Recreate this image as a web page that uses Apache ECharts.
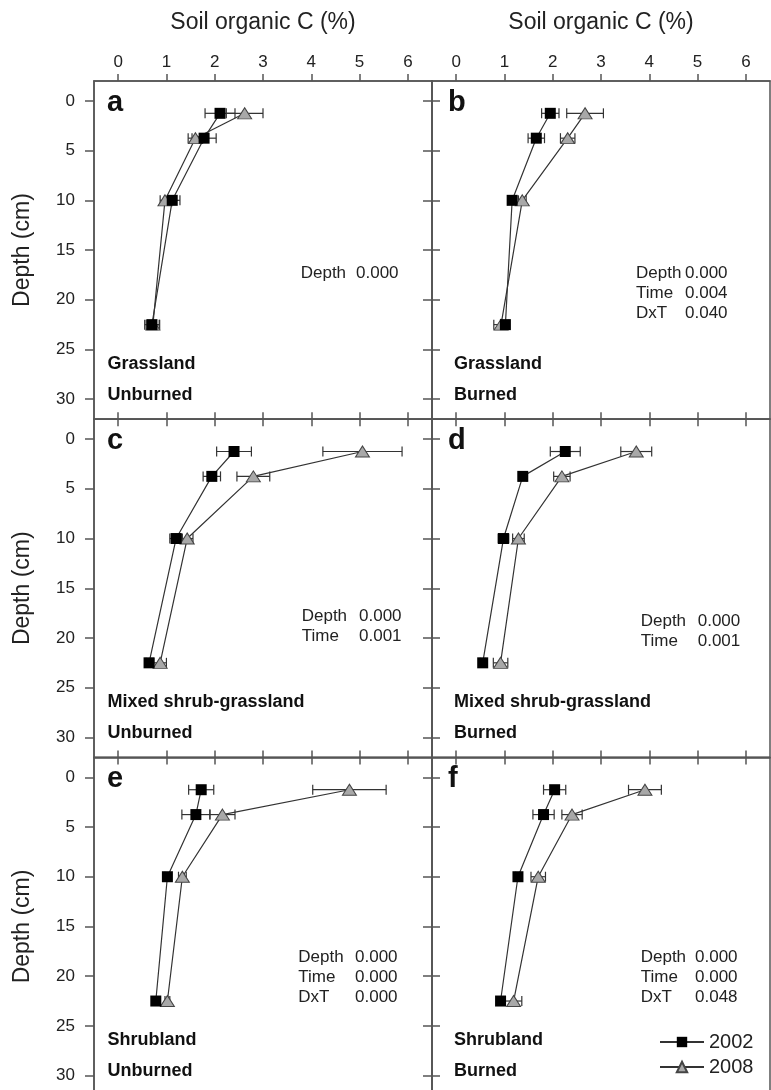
<!DOCTYPE html>
<html>
<head>
<meta charset="utf-8">
<script src="https://cdn.jsdelivr.net/npm/echarts@6.0.0/dist/echarts.min.js"></script>
<style>
html,body{margin:0;padding:0;background:#fff;}
#chart{width:771px;height:1090px;}
</style>
</head>
<body>
<div id="chart"></div>
<script>
// ---------- DATA ----------
const depthCm = [1.25, 3.75, 10, 22.5];
const xTicks = [0, 1, 2, 3, 4, 5, 6];
const yTicks = [0, 5, 10, 15, 20, 25, 30];
const years = ['2002', '2008'];
const xTitle = 'Soil organic C (%)';
const yTitle = 'Depth (cm)';
const panelLetters = ['a', 'b', 'c', 'd', 'e', 'f'];
const vegetation = ['Grassland', 'Grassland', 'Mixed shrub-grassland', 'Mixed shrub-grassland', 'Shrubland', 'Shrubland'];
const treatment = ['Unburned', 'Burned', 'Unburned', 'Burned', 'Unburned', 'Burned'];
const statLabels = [['Depth'], ['Depth', 'Time', 'DxT'], ['Depth', 'Time'], ['Depth', 'Time'], ['Depth', 'Time', 'DxT'], ['Depth', 'Time', 'DxT']];
const statValues = [['0.000'], ['0.000', '0.004', '0.040'], ['0.000', '0.001'], ['0.000', '0.001'], ['0.000', '0.000', '0.000'], ['0.000', '0.000', '0.048']];

const a2002 = [2.11, 1.78, 1.12, 0.70];  const a2002Err = [0.31, 0.25, 0.16, 0.15];
const a2008 = [2.62, 1.60, 0.97, 0.72];  const a2008Err = [0.38, 0.15, 0.10, 0.14];
const b2002 = [1.95, 1.66, 1.16, 1.02];  const b2002Err = [0.18, 0.17, 0.09, 0.08];
const b2008 = [2.67, 2.31, 1.37, 0.93];  const b2008Err = [0.38, 0.15, 0.08, 0.15];
const c2002 = [2.40, 1.94, 1.20, 0.64];  const c2002Err = [0.36, 0.18, 0.13, 0.06];
const c2008 = [5.06, 2.80, 1.43, 0.87];  const c2008Err = [0.82, 0.34, 0.12, 0.13];
const d2002 = [2.26, 1.38, 0.98, 0.55];  const d2002Err = [0.31, 0.08, 0.11, 0.05];
const d2008 = [3.73, 2.19, 1.29, 0.92];  const d2008Err = [0.32, 0.17, 0.12, 0.15];
const e2002 = [1.72, 1.61, 1.02, 0.78];  const e2002Err = [0.26, 0.29, 0.05, 0.05];
const e2008 = [4.79, 2.16, 1.33, 1.02];  const e2008Err = [0.76, 0.26, 0.08, 0.05];
const f2002 = [2.04, 1.81, 1.28, 0.92];  const f2002Err = [0.23, 0.22, 0.05, 0.06];
const f2008 = [3.91, 2.40, 1.70, 1.19];  const f2008Err = [0.34, 0.21, 0.15, 0.17];

const panelData = [
  [a2002, a2002Err, a2008, a2008Err],
  [b2002, b2002Err, b2008, b2008Err],
  [c2002, c2002Err, c2008, c2008Err],
  [d2002, d2002Err, d2008, d2008Err],
  [e2002, e2002Err, e2008, e2008Err],
  [f2002, f2002Err, f2008, f2008Err]
];

// ---------- LAYOUT ----------
const FONT = '"Liberation Sans", Arial, Helvetica, sans-serif';
const colLeft = [94, 432];
const rowTop = [81, 419.2, 757.4];
const panelW = 338, panelH = 338.1;
const axisColor = '#555';
const axisW = 1.5;
const letterDx = [13, 16];
const vegDx = [13.5, 22];
const statLabelDx = [206.7, 204, 207.7, 208.7, 204.3, 208.7];
const statValueDx = [262, 253, 265, 265.7, 261, 263];
const statDy = [192, 192, 197.3, 202.3, 200.2, 200.2];
const statGap = 20;

const chart = echarts.init(document.getElementById('chart'), null, {renderer: 'canvas'});

const grids = [], xAxes = [], yAxes = [], series = [], graphics = [];

function errRender(params, api) {
  const x = api.value(0), y = api.value(1), e = api.value(2);
  const p1 = api.coord([x - e, y]);
  const p2 = api.coord([x + e, y]);
  const c = 5;
  const st = {stroke: '#333', lineWidth: 1.2};
  return {
    type: 'group',
    children: [
      {type: 'line', shape: {x1: p1[0], y1: p1[1], x2: p2[0], y2: p2[1]}, style: st},
      {type: 'line', shape: {x1: p1[0], y1: p1[1] - c, x2: p1[0], y2: p1[1] + c}, style: st},
      {type: 'line', shape: {x1: p2[0], y1: p2[1] - c, x2: p2[0], y2: p2[1] + c}, style: st}
    ]
  };
}

for (let i = 0; i < 6; i++) {
  const col = i % 2, row = Math.floor(i / 2);
  const left = colLeft[col], top = rowTop[row];
  grids.push({
    left: left, top: top, width: panelW, height: panelH,
    show: true, borderColor: axisColor, borderWidth: axisW, backgroundColor: 'transparent',
    containLabel: false, outerBoundsMode: 'none'
  });
  const mainX = xAxes.length;
  xAxes.push({
    gridIndex: i, type: 'value', position: 'top', min: -0.5, max: 6.5,
    axisLine: {show: true, onZero: false, lineStyle: {color: axisColor, width: axisW}},
    axisTick: {show: true, inside: false, length: 7, customValues: xTicks, lineStyle: {color: axisColor, width: axisW}},
    axisLabel: {show: row === 0, customValues: xTicks, margin: 10, fontSize: 17, color: '#222', fontFamily: FONT},
    splitLine: {show: false},
    name: row === 0 ? xTitle : '', nameLocation: 'middle', nameGap: 47,
    nameTextStyle: {fontSize: 23, color: '#222', fontFamily: FONT}
  });
  if (row > 0) {
    xAxes.push({
      gridIndex: i, type: 'value', position: 'top', min: -0.5, max: 6.5,
      axisLine: {show: false, onZero: false},
      axisTick: {show: true, inside: true, length: 7, customValues: xTicks, lineStyle: {color: axisColor, width: axisW}},
      axisLabel: {show: false}, splitLine: {show: false}
    });
  }
  const mainY = yAxes.length;
  yAxes.push({
    gridIndex: i, type: 'value', position: 'left', inverse: true, min: -2, max: 32,
    axisLine: {show: true, onZero: false, lineStyle: {color: axisColor, width: axisW}},
    axisTick: {show: true, inside: false, length: 9, customValues: yTicks, lineStyle: {color: axisColor, width: axisW}},
    axisLabel: {show: col === 0, customValues: yTicks, margin: 19, fontSize: 17, color: '#222', fontFamily: FONT},
    splitLine: {show: false},
    name: col === 0 ? yTitle : '', nameLocation: 'middle', nameRotate: 90, nameGap: 60,
    nameTextStyle: {fontSize: 23, color: '#222', fontFamily: FONT}
  });
  if (col === 1) {
    yAxes.push({
      gridIndex: i, type: 'value', position: 'left', inverse: true, min: -2, max: 32,
      axisLine: {show: false, onZero: false},
      axisTick: {show: true, inside: true, length: 8, customValues: yTicks, lineStyle: {color: axisColor, width: axisW}},
      axisLabel: {show: false}, splitLine: {show: false}
    });
  }

  const [v02, e02, v08, e08] = panelData[i];
  series.push({
    type: 'custom', name: 'err' + years[0], xAxisIndex: mainX, yAxisIndex: mainY, z: 2,
    renderItem: errRender, encode: {x: 0, y: 1},
    data: v02.map((v, k) => [v, depthCm[k], e02[k]]), silent: true
  });
  series.push({
    type: 'custom', name: 'err' + years[1], xAxisIndex: mainX, yAxisIndex: mainY, z: 2,
    renderItem: errRender, encode: {x: 0, y: 1},
    data: v08.map((v, k) => [v, depthCm[k], e08[k]]), silent: true
  });
  series.push({
    type: 'line', name: years[0], xAxisIndex: mainX, yAxisIndex: mainY, z: 4,
    data: v02.map((v, k) => [v, depthCm[k]]),
    symbol: 'rect', symbolSize: 11,
    itemStyle: {color: '#000', borderColor: '#000', borderWidth: 0},
    lineStyle: {color: '#333', width: 1.2}, animation: false
  });
  series.push({
    type: 'line', name: years[1], xAxisIndex: mainX, yAxisIndex: mainY, z: 3,
    data: v08.map((v, k) => [v, depthCm[k]]),
    symbol: 'triangle', symbolSize: [14, 11],
    itemStyle: {color: '#a8a8a8', borderColor: '#444', borderWidth: 1},
    lineStyle: {color: '#333', width: 1.2}, animation: false
  });

  // annotations
  graphics.push({type: 'text', x: left + letterDx[col], y: top + 22, z: 10,
    style: {text: panelLetters[i], font: 'bold 29px ' + FONT, fill: '#111', verticalAlign: 'middle'}});
  graphics.push({type: 'text', x: left + vegDx[col], y: top + 283, z: 10,
    style: {text: vegetation[i], font: 'bold 18px ' + FONT, fill: '#111', verticalAlign: 'middle'}});
  graphics.push({type: 'text', x: left + vegDx[col], y: top + 314, z: 10,
    style: {text: treatment[i], font: 'bold 18px ' + FONT, fill: '#111', verticalAlign: 'middle'}});
  statLabels[i].forEach((lab, k) => {
    graphics.push({type: 'text', x: left + statLabelDx[i], y: top + statDy[i] + k * statGap, z: 10,
      style: {text: lab, font: '17px ' + FONT, fill: '#222', verticalAlign: 'middle'}});
    graphics.push({type: 'text', x: left + statValueDx[i], y: top + statDy[i] + k * statGap, z: 10,
      style: {text: statValues[i][k], font: '17px ' + FONT, fill: '#222', verticalAlign: 'middle'}});
  });
}

chart.setOption({
  animation: false,
  backgroundColor: '#fff',
  textStyle: {fontFamily: FONT},
  grid: grids,
  xAxis: xAxes,
  yAxis: yAxes,
  series: series,
  legend: {
    data: years, orient: 'vertical', left: 654, top: 1027,
    itemWidth: 44, itemHeight: 13, itemGap: 5,
    textStyle: {fontSize: 20, color: '#222', fontFamily: FONT},
    selectedMode: false
  },
  graphic: graphics
});
</script>
</body>
</html>
